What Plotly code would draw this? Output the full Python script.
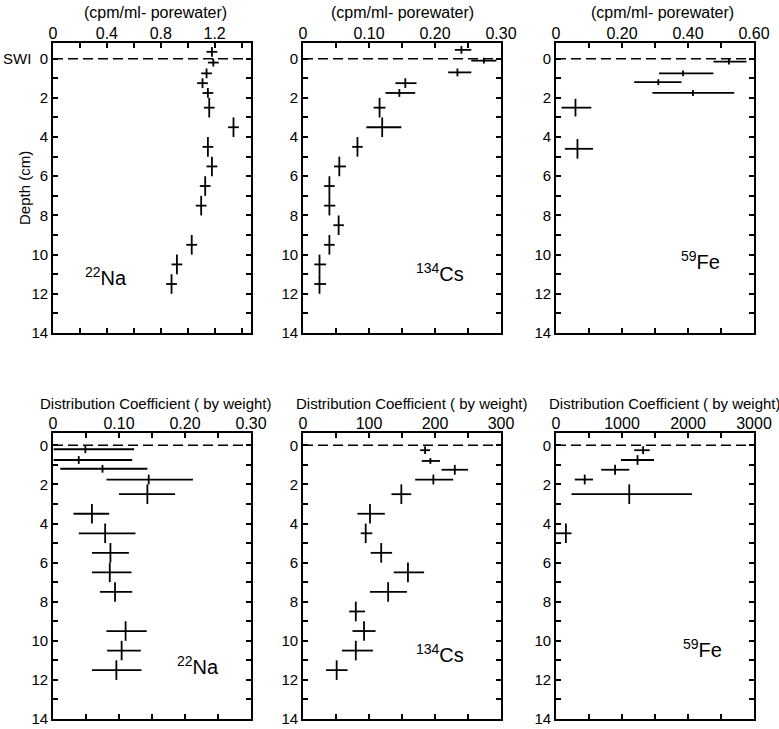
import plotly.graph_objects as go

W, H = 779, 729

# ---------------- data ----------------
# Row 1: porewater activity (cpm/ml-porewater)
na_pw_depth = [-0.35, 0.2, 0.75, 1.25, 1.75, 2.5, 3.5, 4.5, 5.5, 6.5, 7.5, 9.5, 10.5, 11.5]
na_pw_val = [1.18, 1.19, 1.14, 1.11, 1.15, 1.16, 1.34, 1.15, 1.18, 1.13, 1.10, 1.03, 0.92, 0.88]
na_pw_xlo = [0.04] * 14
na_pw_xhi = [0.04] * 14
na_pw_dz = [0.25, 0.2, 0.25, 0.25, 0.25, 0.5, 0.5, 0.5, 0.5, 0.5, 0.5, 0.5, 0.5, 0.5]

cs_pw_depth = [-0.45, 0.1, 0.7, 1.25, 1.75, 2.5, 3.5, 4.5, 5.5, 6.5, 7.5, 8.5, 9.5, 10.5, 11.5]
cs_pw_val = [0.24, 0.274, 0.234, 0.155, 0.146, 0.116, 0.12, 0.0825, 0.055, 0.04, 0.04, 0.054, 0.04, 0.025, 0.025]
cs_pw_xlo = [0.01, 0.019, 0.014, 0.015, 0.021, 0.009, 0.024, 0.008, 0.008, 0.008, 0.008, 0.008, 0.008, 0.008, 0.008]
cs_pw_xhi = [0.015, 0.019, 0.021, 0.017, 0.024, 0.009, 0.029, 0.008, 0.010, 0.008, 0.009, 0.008, 0.008, 0.010, 0.010]
cs_pw_dz = [0.2, 0.15, 0.2, 0.25, 0.2, 0.5, 0.5, 0.5, 0.5, 0.5, 0.5, 0.5, 0.5, 0.5, 0.5]

fe_pw_depth = [0.15, 0.75, 1.2, 1.75, 2.5, 4.6]
fe_pw_val = [0.524, 0.385, 0.31, 0.415, 0.059, 0.065]
fe_pw_xlo = [0.047, 0.073, 0.073, 0.123, 0.042, 0.038]
fe_pw_xhi = [0.053, 0.092, 0.07, 0.125, 0.048, 0.047]
fe_pw_dz = [0.15, 0.15, 0.15, 0.15, 0.45, 0.5]

# Row 2: distribution coefficient (by weight)
na_kd_depth = [0.2, 0.75, 1.2, 1.75, 2.5, 3.5, 4.5, 5.5, 6.5, 7.5, 9.5, 10.5, 11.5]
na_kd_val = [0.049, 0.039, 0.075, 0.145, 0.143, 0.059, 0.079, 0.087, 0.086, 0.094, 0.11, 0.104, 0.096]
na_kd_lo = [0.001, 0.001, 0.011, 0.081, 0.100, 0.031, 0.039, 0.059, 0.059, 0.071, 0.081, 0.082, 0.059]
na_kd_hi = [0.123, 0.120, 0.143, 0.212, 0.185, 0.085, 0.125, 0.115, 0.119, 0.120, 0.142, 0.133, 0.134]
na_kd_dz = [0.2, 0.2, 0.2, 0.25, 0.5, 0.5, 0.5, 0.5, 0.5, 0.5, 0.5, 0.5, 0.5]

cs_kd_depth = [0.25, 0.8, 1.25, 1.75, 2.5, 3.5, 4.5, 5.5, 6.5, 7.5, 8.5, 9.5, 10.5, 11.5]
cs_kd_val = [185, 193, 230, 197.5, 149, 101.5, 95, 118.5, 159, 129, 80, 92.5, 80, 51]
cs_kd_lo = [177.5, 180, 210, 170, 134, 82.5, 87.5, 102.5, 137.5, 101.5, 70, 75, 59, 35]
cs_kd_hi = [192.5, 207.5, 250, 227.5, 164, 124, 105, 135, 183.5, 157.5, 94, 110, 106, 67.5]
cs_kd_dz = [0.2, 0.15, 0.25, 0.25, 0.5, 0.5, 0.5, 0.5, 0.5, 0.5, 0.5, 0.5, 0.5, 0.5]

fe_kd_depth = [0.25, 0.75, 1.25, 1.75, 2.5, 4.5]
fe_kd_val = [1320, 1235, 895, 435, 1110, 150]
fe_kd_lo = [1185, 985, 685, 285, 235, 0]
fe_kd_hi = [1420, 1485, 1110, 560, 2060, 235]
fe_kd_dz = [0.2, 0.25, 0.25, 0.25, 0.5, 0.5]

# tick labels (labelled ticks) and minor tick spacing
x_tickvals = [
    [0, 0.4, 0.8, 1.2],
    [0, 0.10, 0.20, 0.30],
    [0, 0.2, 0.4, 0.6],
    [0, 0.10, 0.20, 0.30],
    [0, 100, 200, 300],
    [0, 1000, 2000, 3000],
]
x_ticktext = [
    ["0", "0.4", "0.8", "1.2"],
    ["0", "0.10", "0.20", "0.30"],
    ["0", "0.20", "0.40", "0.60"],
    ["0", "0.10", "0.20", "0.30"],
    ["0", "100", "200", "300"],
    ["0", "1000", "2000", "3000"],
]
x_minor = [0.2, 0.05, 0.1, 0.05, 50, 500]
x_ranges = [[0, 1.47], [0, 0.3], [0, 0.6], [0, 0.3], [0, 300], [0, 3000]]
y_tickvals = [0, 2, 4, 6, 8, 10, 12, 14]
y_ticktext = ["0", "2", "4", "6", "8", "10", "12", "14"]

isotopes = ["<sup>22</sup>Na", "<sup>134</sup>Cs", "<sup>59</sup>Fe"]

# ---------------- layout geometry ----------------
cols_px = [(53, 251), (303, 501), (556, 754)]
rows_px = [(43, 333), (433, 719)]
row_yrange = [[14, -0.8], [14, -0.63]]

FONT = "Liberation Sans"
LW = 1.8

fig = go.Figure()

panels = [
    (na_pw_val, na_pw_depth, na_pw_xhi, na_pw_xlo, na_pw_dz, False),
    (cs_pw_val, cs_pw_depth, cs_pw_xhi, cs_pw_xlo, cs_pw_dz, False),
    (fe_pw_val, fe_pw_depth, fe_pw_xhi, fe_pw_xlo, fe_pw_dz, False),
    (na_kd_val, na_kd_depth, na_kd_hi, na_kd_lo, na_kd_dz, True),
    (cs_kd_val, cs_kd_depth, cs_kd_hi, cs_kd_lo, cs_kd_dz, True),
    (fe_kd_val, fe_kd_depth, fe_kd_hi, fe_kd_lo, fe_kd_dz, True),
]

tick_style = dict(ticks="inside", ticklen=5, tickwidth=1.5, tickcolor="black")

layout_axes = {}
shapes = []
for i, (xv, yv, ehi, elo, dz, absolute) in enumerate(panels):
    sfx = "" if i == 0 else str(i + 1)
    r, c = divmod(i, 3)
    if absolute:
        plus = [h - v for h, v in zip(ehi, xv)]
        minus = [v - l for l, v in zip(elo, xv)]
    else:
        plus, minus = ehi, elo
    fig.add_trace(go.Scatter(
        x=xv, y=yv, mode="markers",
        marker=dict(size=2, color="black"),
        error_x=dict(type="data", symmetric=False, array=plus, arrayminus=minus,
                     color="black", thickness=LW, width=0),
        error_y=dict(type="data", array=dz, color="black", thickness=LW, width=0),
        xaxis=f"x{sfx}", yaxis=f"y{sfx}", showlegend=False, hoverinfo="skip",
    ))
    x0, x1 = cols_px[c]
    y0, y1 = rows_px[r]
    layout_axes[f"xaxis{sfx}"] = dict(
        domain=[x0 / W, x1 / W], anchor=f"y{sfx}", side="top",
        range=x_ranges[i], tickmode="array",
        tickvals=x_tickvals[i], ticktext=x_ticktext[i],
        minor=dict(dtick=x_minor[i], tick0=0, **tick_style),
        showline=True, linecolor="black", linewidth=LW, mirror="ticks",
        showgrid=False, zeroline=False, automargin=False,
        ticklabelstandoff=-4,
        tickfont=dict(family=FONT, size=16, color="black"),
        **tick_style,
    )
    yt = list(y_ticktext)
    if i == 0:
        yt[0] = "SWI  0"
    layout_axes[f"yaxis{sfx}"] = dict(
        domain=[1 - y1 / H, 1 - y0 / H], anchor=f"x{sfx}",
        range=row_yrange[r], tickmode="array",
        tickvals=y_tickvals, ticktext=yt,
        minor=dict(dtick=1, tick0=0, **tick_style),
        showline=True, linecolor="black", linewidth=LW, mirror="ticks",
        showgrid=False, zeroline=False, automargin=False,
        tickfont=dict(family=FONT, size=15, color="black"),
        **tick_style,
    )
    shapes.append(dict(type="line", xref=f"x{sfx} domain", yref=f"y{sfx}",
                       x0=0, x1=1, y0=0, y1=0,
                       line=dict(color="black", width=1.6, dash="10px,5px")))

fig.update_layout(**layout_axes)


def note(text, px, py, size, angle=0):
    return dict(text=text, x=px / W, y=1 - py / H, xref="paper", yref="paper",
                xanchor="center", yanchor="middle", textangle=angle, showarrow=False,
                font=dict(family=FONT, size=size, color="black"))


annotations = []
# axis titles
for xp in [155, 402, 662]:
    annotations.append(note("(cpm/ml- porewater)", xp, 13, 16))
for xp in [156, 412, 665]:
    annotations.append(note("Distribution Coefficient ( by weight)", xp, 403, 15))
annotations.append(note("Depth (cm)", 25, 188, 15, angle=-90))
# isotope labels (pixel centres)
iso_px = [(106, 276), (440, 273), (700, 260), (198, 665), (440, 653), (702, 648)]
for i, (px, py) in enumerate(iso_px):
    annotations.append(note(isotopes[i % 3], px, py, 20))

fig.update_layout(
    width=W, height=H,
    margin=dict(l=0, r=0, t=0, b=0),
    paper_bgcolor="white", plot_bgcolor="white",
    shapes=shapes, annotations=annotations,
    showlegend=False,
)

fig.write_html("out.html")
